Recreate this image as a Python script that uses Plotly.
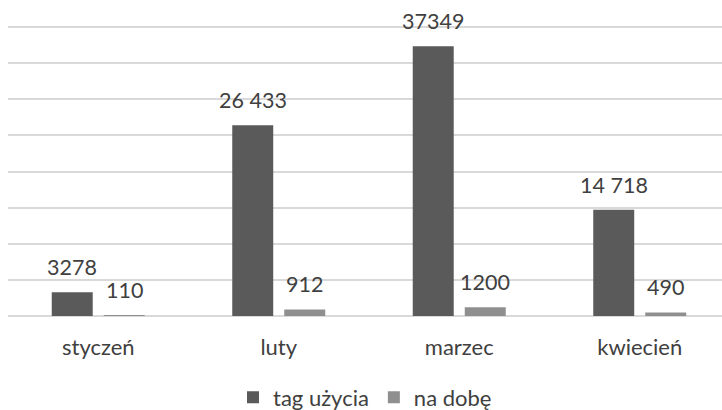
import plotly.graph_objects as go

categories = ["styczeń", "luty", "marzec", "kwiecień"]
tag_uzycia = [3278, 26433, 37349, 14718]
na_dobe = [110, 912, 1200, 490]
labels_tag = ["3278", "26 433", "37349", "14 718"]
labels_dobe = ["110", "912", "1200", "490"]

series_names = ["tag użycia", "na dobę"]
colors = ["#5a5a5a", "#8f8f8f"]
text_color = "#404040"
font_family = "Lato, Open Sans, sans-serif"

bar_w = 0.227
offsets = [-0.2576, 0.0305]

fig = go.Figure()
for name, vals, col, off in zip(series_names, [tag_uzycia, na_dobe], colors, offsets):
    fig.add_trace(go.Bar(
        x=list(range(len(categories))), y=vals, name=name,
        marker=dict(color=col, line=dict(width=0)),
        width=bar_w, offset=off,
    ))

annotations = []
for vals, labs, off in zip([tag_uzycia, na_dobe], [labels_tag, labels_dobe], offsets):
    for i, (v, lab) in enumerate(zip(vals, labs)):
        annotations.append(dict(
            x=i + off + bar_w / 2, y=v, xref="x", yref="y",
            text=lab, showarrow=False, yanchor="bottom", xanchor="center",
            yshift=10, font=dict(size=21.5, color=text_color, family=font_family),
        ))

fig.update_layout(
    width=722, height=410,
    margin=dict(l=8, r=0, t=25, b=94, autoexpand=False),
    paper_bgcolor="white", plot_bgcolor="white",
    barmode="overlay",
    annotations=annotations,
    font=dict(family=font_family, size=22, color=text_color),
    xaxis=dict(
        tickmode="array", tickvals=list(range(len(categories))), ticktext=categories,
        range=[-0.5, -0.5 + 714 / 180.5], showgrid=False, showline=False,
        zeroline=False, ticks="", ticklabelstandoff=16, automargin=False,
        tickfont=dict(size=22, color=text_color, family=font_family),
    ),
    yaxis=dict(
        range=[0, 40300], tickmode="array", tickvals=[5000 * k for k in range(9)],
        showgrid=True, gridcolor="#d9d9d9", automargin=False,
        gridwidth=1.5, showticklabels=False, zeroline=True, zerolinecolor="#d9d9d9",
        zerolinewidth=1.5, showline=False, ticks="",
    ),
    legend=dict(
        orientation="h", x=0.5, xanchor="center", y=-0.28, yanchor="middle",
        font=dict(size=22, color=text_color, family=font_family),
        itemwidth=30, bgcolor="rgba(0,0,0,0)",
    ),
    showlegend=True,
)

fig.write_html("out.html", config={"displayModeBar": False},
               post_script="document.body.style.margin='0';")
